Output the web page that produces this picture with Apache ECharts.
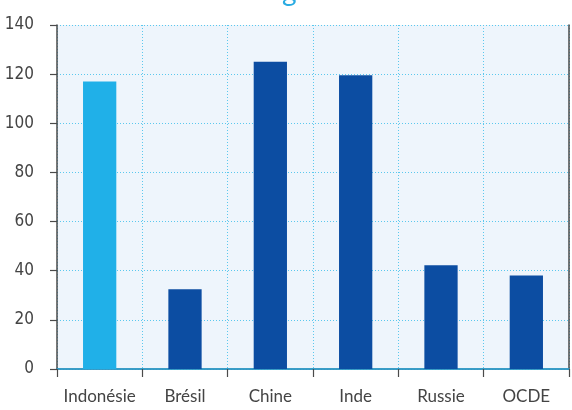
<!DOCTYPE html>
<html>
<head>
<meta charset="utf-8">
<script src="https://cdn.jsdelivr.net/npm/echarts@6/dist/echarts.min.js"></script>
<style>
  html, body { margin: 0; padding: 0; background: #fff; }
  #chart { width: 572px; height: 410px; }
</style>
</head>
<body>
<div id="chart"></div>
<script>
// données
const categories = ["Indonésie", "Brésil", "Chine", "Inde", "Russie", "OCDE"];
const values = [117, 32.5, 125, 119.5, 42.2, 38.1];
const yTicks = [0, 20, 40, 60, 80, 100, 120, 140];

const highlight = "#20B0E8";
const normal = "#0C4DA2";
const labelFont = "Lato, 'Open Sans', sans-serif";
const numFont = "'Liberation Sans Narrow', 'DejaVu Sans Condensed', sans-serif";

const myChart = echarts.init(document.getElementById("chart"));
const option = {
  animation: false,
  graphic: [{
    // titre coupé en haut de l'image
    type: "text", left: 282, top: -22,
    style: { text: "g", fontSize: 28, fill: "#29ABE2", fontFamily: labelFont }
  }],
  grid: {
    left: 57, right: 3, top: 25, bottom: 41,
    show: true, backgroundColor: "#EEF5FC", borderWidth: 0
  },
  xAxis: [{
    type: "category",
    data: categories,
    axisLine: { lineStyle: { color: "#4a4a4a", width: 1.5 } },
    axisTick: { show: true, length: 8, interval: 0, lineStyle: { color: "#4a4a4a", width: 1.2 } },
    axisLabel: { color: "#444", fontSize: 17, margin: 19, fontFamily: labelFont, interval: 0 },
    splitLine: { show: true, interval: 0, lineStyle: { color: "#5BC8EE", type: [1, 2], width: 1 } }
  }, {
    // ligne du haut
    type: "category",
    position: "top",
    data: categories,
    axisLine: { show: true, lineStyle: { color: "#29ABE2", width: 1.5 } },
    axisTick: { show: false },
    axisLabel: { show: false }
  }],
  yAxis: [{
    type: "value",
    min: 0, max: 140, interval: 20,
    axisLine: { show: true, lineStyle: { color: "#4a4a4a", width: 1.5 } },
    axisTick: { show: true, length: 7, lineStyle: { color: "#4a4a4a", width: 1.2 } },
    axisLabel: {
      color: "#444", fontSize: 17, margin: 23, fontFamily: numFont,
      formatter: v => yTicks.includes(v) ? String(v) : ""
    },
    splitLine: { show: true, lineStyle: { color: "#5BC8EE", type: [1, 2], width: 1 } }
  }, {
    // bord droit
    type: "value",
    position: "right",
    min: 0, max: 140, interval: 20,
    axisLine: { show: true, lineStyle: { color: "#4a4a4a", width: 1.5 } },
    axisTick: { show: false },
    axisLabel: { show: false },
    splitLine: { show: false }
  }],
  series: [{
    type: "bar",
    barWidth: "39%",
    data: values.map((v, i) => ({
      value: v,
      itemStyle: { color: i === 0 ? highlight : normal }
    }))
  }]
};
myChart.setOption(option);
</script>
</body>
</html>
